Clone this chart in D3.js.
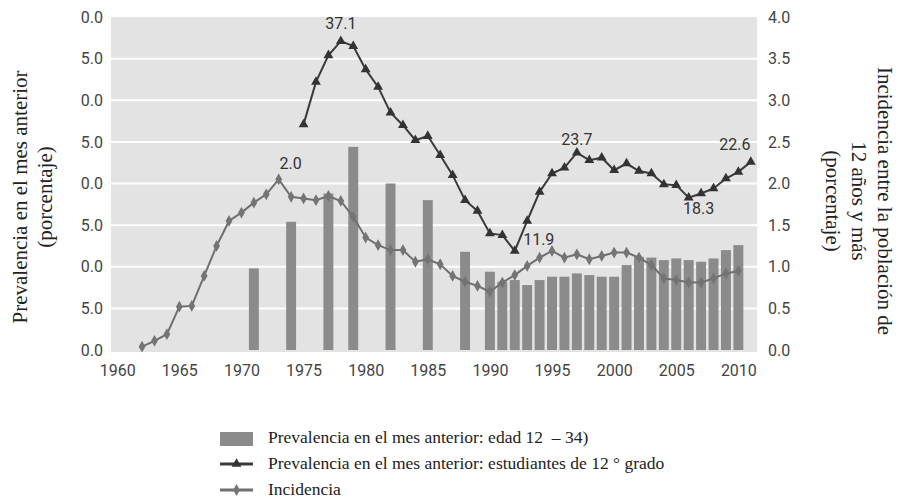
<!DOCTYPE html>
<html>
<head>
<meta charset="utf-8">
<script src="https://cdn.jsdelivr.net/npm/d3@7"></script>
<style>
  body { margin: 0; background: #fff; }
  .num { font-family: Roboto, "Open Sans", sans-serif; font-size: 16px; fill: #444; }
  .ttl { font-family: "Liberation Serif", "Times New Roman", serif; font-size: 21px; fill: #222; }
  .leg { font-family: "Liberation Serif", "Times New Roman", serif; font-size: 17.5px; fill: #222; white-space: pre; }
</style>
</head>
<body>
<div id="chart"></div>
<script>
// bars: prevalencia mes anterior, edad 12-34 (left axis, %)
var barYears = [1971, 1974, 1977, 1979, 1982, 1985, 1988,
  1990, 1991, 1992, 1993, 1994, 1995, 1996, 1997, 1998, 1999, 2000,
  2001, 2002, 2003, 2004, 2005, 2006, 2007, 2008, 2009, 2010];
var barValues = [9.8, 15.4, 18.8, 24.4, 20.0, 18.0, 11.8,
  9.4, 8.2, 8.4, 7.8, 8.4, 8.8, 8.8, 9.2, 9.0, 8.8, 8.8,
  10.2, 11.2, 11.1, 10.8, 11.0, 10.8, 10.6, 11.0, 12.0, 12.6];

// line: estudiantes de 12 grado (left axis, %)
var gradeYears = [1975, 1976, 1977, 1978, 1979, 1980, 1981, 1982, 1983, 1984,
  1985, 1986, 1987, 1988, 1989, 1990, 1991, 1992, 1993, 1994, 1995, 1996,
  1997, 1998, 1999, 2000, 2001, 2002, 2003, 2004, 2005, 2006, 2007, 2008,
  2009, 2010, 2011];
var gradeValues = [27.1, 32.2, 35.4, 37.1, 36.5, 33.7, 31.6, 28.5, 27.0, 25.2,
  25.7, 23.4, 21.0, 18.0, 16.7, 14.0, 13.8, 11.9, 15.5, 19.0, 21.2, 21.9,
  23.7, 22.8, 23.1, 21.6, 22.4, 21.5, 21.2, 19.9, 19.8, 18.3, 18.8, 19.4,
  20.6, 21.4, 22.6];

// line: incidencia (right axis, %)
var incYears = [1962, 1963, 1964, 1965, 1966, 1967, 1968, 1969, 1970, 1971,
  1972, 1973, 1974, 1975, 1976, 1977, 1978, 1979, 1980, 1981, 1982, 1983,
  1984, 1985, 1986, 1987, 1988, 1989, 1990, 1991, 1992, 1993, 1994, 1995,
  1996, 1997, 1998, 1999, 2000, 2001, 2002, 2003, 2004, 2005, 2006, 2007,
  2008, 2009, 2010];
var incValues = [0.04, 0.11, 0.19, 0.52, 0.53, 0.89, 1.25, 1.55, 1.65, 1.77,
  1.87, 2.05, 1.84, 1.82, 1.80, 1.85, 1.79, 1.60, 1.35, 1.26, 1.20, 1.20,
  1.06, 1.09, 1.03, 0.89, 0.82, 0.77, 0.70, 0.81, 0.90, 1.01, 1.11, 1.19,
  1.11, 1.15, 1.09, 1.13, 1.17, 1.17, 1.11, 1.02, 0.86, 0.84, 0.81, 0.81,
  0.86, 0.92, 0.95];

var xTicks = [1960, 1965, 1970, 1975, 1980, 1985, 1990, 1995, 2000, 2005, 2010];
var leftTicks = [0, 5, 10, 15, 20, 25, 30, 35, 40];
var rightTicks = [0, 0.5, 1, 1.5, 2, 2.5, 3, 3.5, 4];

// point labels: [year, text, dx, dy]
var gradeLabels = [[1978, "37.1", 0, -12], [1997, "23.7", 0, -8], [2011, "22.6", -16, -12],
  [1992, "11.9", 24, -6], [2006, "18.3", 10, 16]];
var incLabels = [[1973, "2.0", 12, -10]];

var legendNames = ["Prevalencia en el mes anterior: edad 12  \u2013 34)",
  "Prevalencia en el mes anterior: estudiantes de 12 \u00b0 grado",
  "Incidencia"];

var w = 900, h = 501;
var pLeft = 111, pRight = 757, pTop = 17, pBottom = 352;

var x = d3.scaleLinear().domain([1959.5, 2011.5]).range([pLeft, pRight]);
var yL = d3.scaleLinear().domain([0, 40]).range([350, pTop]);
var yR = d3.scaleLinear().domain([0, 4]).range([350, pTop]);

var svg = d3.select("#chart").append("svg")
    .attr("width", w)
    .attr("height", h);

svg.append("rect")
    .attr("x", pLeft).attr("y", pTop)
    .attr("width", pRight - pLeft).attr("height", pBottom - pTop)
    .attr("fill", "#e3e3e3");

// gridlines
svg.selectAll("line.grid")
    .data(leftTicks.filter(function(d) { return d > 0 && d < 40; }))
    .enter().append("line")
    .attr("class", "grid")
    .attr("x1", pLeft).attr("x2", pRight)
    .attr("y1", function(d) { return yL(d); })
    .attr("y2", function(d) { return yL(d); })
    .attr("stroke", "#fff")
    .attr("stroke-width", 2);

// bars
var bw = (x(1) - x(0)) * 0.8;
svg.selectAll("rect.bar")
    .data(barYears)
    .enter().append("rect")
    .attr("class", "bar")
    .attr("x", function(d) { return x(d) - bw / 2; })
    .attr("width", bw)
    .attr("y", function(d, i) { return yL(barValues[i]); })
    .attr("height", function(d, i) { return yL(0) - yL(barValues[i]); })
    .attr("fill", "#8b8b8b");

// incidence line
var incLine = d3.line()
    .x(function(d) { return x(d); })
    .y(function(d, i) { return yR(incValues[i]); });

svg.append("path")
    .attr("d", incLine(incYears))
    .attr("fill", "none")
    .attr("stroke", "#6f6f6f")
    .attr("stroke-width", 2);

var diamond = d3.symbol().type(d3.symbolDiamond).size(40);
svg.selectAll("path.inc")
    .data(incYears)
    .enter().append("path")
    .attr("class", "inc")
    .attr("d", diamond)
    .attr("transform", function(d, i) { return "translate(" + x(d) + "," + yR(incValues[i]) + ")"; })
    .attr("fill", "#747474");

// 12th grade line
var gradeLine = d3.line()
    .x(function(d) { return x(d); })
    .y(function(d, i) { return yL(gradeValues[i]); });

svg.append("path")
    .attr("d", gradeLine(gradeYears))
    .attr("fill", "none")
    .attr("stroke", "#3a3a3a")
    .attr("stroke-width", 2);

var tri = d3.symbol().type(d3.symbolTriangle).size(42);
svg.selectAll("path.grade")
    .data(gradeYears)
    .enter().append("path")
    .attr("class", "grade")
    .attr("d", tri)
    .attr("transform", function(d, i) { return "translate(" + x(d) + "," + yL(gradeValues[i]) + ")"; })
    .attr("fill", "#333");

// point labels
svg.selectAll("text.glab")
    .data(gradeLabels)
    .enter().append("text")
    .attr("class", "num")
    .attr("text-anchor", "middle")
    .attr("x", function(d) { return x(d[0]) + d[2]; })
    .attr("y", function(d) { return yL(gradeValues[gradeYears.indexOf(d[0])]) + d[3]; })
    .style("fill", "#333")
    .text(function(d) { return d[1]; });

svg.selectAll("text.ilab")
    .data(incLabels)
    .enter().append("text")
    .attr("class", "num")
    .attr("text-anchor", "middle")
    .attr("x", function(d) { return x(d[0]) + d[2]; })
    .attr("y", function(d) { return yR(incValues[incYears.indexOf(d[0])]) + d[3]; })
    .style("fill", "#333")
    .text(function(d) { return d[1]; });

// axes (no domain or tick lines)
var gx = svg.append("g")
    .attr("transform", "translate(0," + (pBottom + 5) + ")")
    .call(d3.axisBottom(x).tickValues(xTicks).tickFormat(d3.format("d")).tickSize(0).tickPadding(8));

var gl = svg.append("g")
    .attr("transform", "translate(" + (pLeft - 8) + ",0)")
    .call(d3.axisLeft(yL).tickValues(leftTicks).tickSize(0).tickPadding(0)
      .tickFormat(function(d) { return d3.format(".1f")(d % 10); }));

var gr = svg.append("g")
    .attr("transform", "translate(" + (pRight + 11) + ",0)")
    .call(d3.axisRight(yR).tickValues(rightTicks).tickSize(0).tickPadding(0)
      .tickFormat(d3.format(".1f")));

[gx, gl, gr].forEach(function(g) {
  g.attr("font-family", null).attr("font-size", null);
  g.select(".domain").remove();
  g.selectAll("text").attr("class", "num");
});

// axis titles
var lt = svg.append("text")
    .attr("class", "ttl")
    .attr("text-anchor", "middle")
    .attr("transform", "translate(27,197) rotate(-90)");
lt.append("tspan").attr("x", 0).attr("dy", 0).text("Prevalencia en el mes anterior");
lt.append("tspan").attr("x", 0).attr("dy", 25).text("(porcentaje)");

var rt = svg.append("text")
    .attr("class", "ttl")
    .attr("text-anchor", "middle")
    .attr("transform", "translate(878,201) rotate(90)");
rt.append("tspan").attr("x", 0).attr("dy", 0).text("Incidencia entre la población de");
rt.append("tspan").attr("x", 0).attr("dy", 26).text("12 años y más");
rt.append("tspan").attr("x", 0).attr("dy", 26).text("(porcentaje)");

// legend
var lg = svg.append("g").attr("transform", "translate(220,438)");
var rowH = 26;

lg.append("rect")
    .attr("x", 0).attr("y", -6)
    .attr("width", 33).attr("height", 14)
    .attr("fill", "#8b8b8b");

lg.append("line")
    .attr("x1", 0).attr("x2", 33)
    .attr("y1", rowH).attr("y2", rowH)
    .attr("stroke", "#3a3a3a").attr("stroke-width", 3);
lg.append("path")
    .attr("d", tri)
    .attr("transform", "translate(16.5," + rowH + ")")
    .attr("fill", "#333");

lg.append("line")
    .attr("x1", 0).attr("x2", 33)
    .attr("y1", rowH * 2).attr("y2", rowH * 2)
    .attr("stroke", "#6f6f6f").attr("stroke-width", 3);
lg.append("path")
    .attr("d", diamond)
    .attr("transform", "translate(16.5," + rowH * 2 + ")")
    .attr("fill", "#747474");

lg.selectAll("text")
    .data(legendNames)
    .enter().append("text")
    .attr("class", "leg")
    .attr("x", 48)
    .attr("y", function(d, i) { return i * rowH + 5; })
    .text(function(d) { return d; });
</script>
</body>
</html>
